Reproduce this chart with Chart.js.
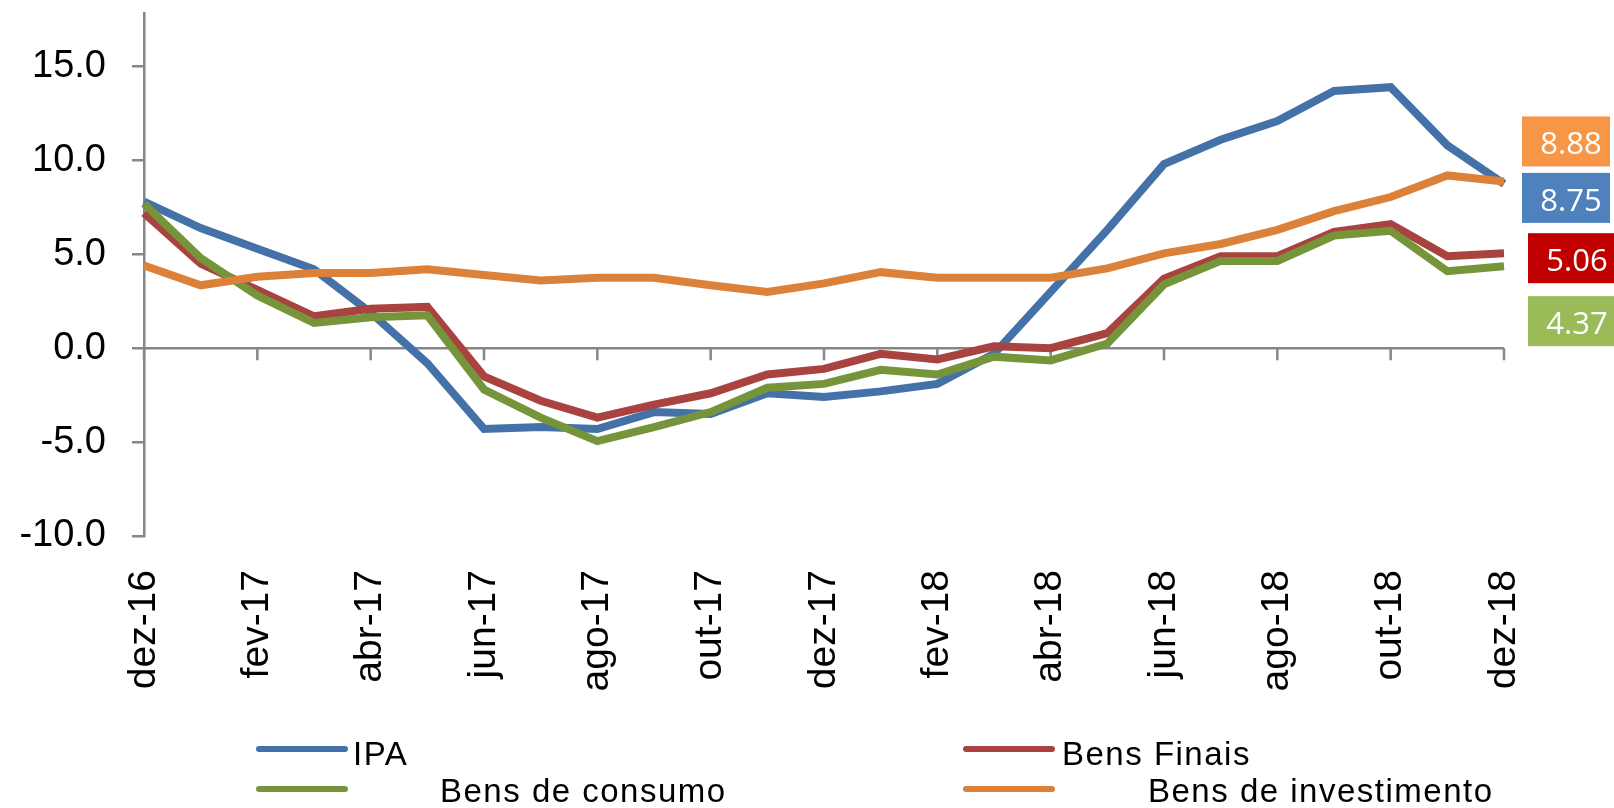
<!DOCTYPE html>
<html>
<head>
<meta charset="utf-8">
<script src="https://cdn.jsdelivr.net/npm/chart.js@4.4.1/dist/chart.umd.min.js"></script>
<style>
  body { margin: 0; background: #fff; }
  #wrap { position: relative; width: 1614px; height: 808px; }
  .leg { position: absolute; font-family: "Liberation Sans", Arial, sans-serif; font-size: 33px;
         letter-spacing: 1.5px; line-height: 33px; color: #000; white-space: nowrap; }
  .legLine { position: absolute; height: 6px; border-radius: 3px; }
</style>
</head>
<body>
<div id="wrap">
  <canvas id="myChart" width="1614" height="808"></canvas>
</div>
<script>
// months dez-16 .. dez-18
const months = ['dez-16','jan-17','fev-17','mar-17','abr-17','mai-17','jun-17','jul-17','ago-17','set-17','out-17','nov-17',
                'dez-17','jan-18','fev-18','mar-18','abr-18','mai-18','jun-18','jul-18','ago-18','set-18','out-18','nov-18','dez-18']

const ipa          = [7.8, 6.4, 5.3, 4.2, 1.9, -0.8, -4.3, -4.2, -4.3, -3.4, -3.5, -2.4, -2.6, -2.3, -1.9, -0.3, 3.0, 6.3, 9.8, 11.1, 12.1, 13.7, 13.9, 10.8, 8.75]
const bensFinais   = [7.2, 4.5, 3.1, 1.7, 2.1, 2.2, -1.5, -2.8, -3.7, -3.0, -2.4, -1.4, -1.1, -0.3, -0.6, 0.1, 0.0, 0.8, 3.7, 4.9, 4.9, 6.2, 6.6, 4.9, 5.06]
const bensConsumo  = [7.7, 4.8, 2.8, 1.35, 1.65, 1.75, -2.2, -3.7, -4.95, -4.2, -3.4, -2.1, -1.9, -1.15, -1.4, -0.45, -0.65, 0.25, 3.4, 4.65, 4.65, 6.0, 6.25, 4.1, 4.37]
const bensInvest   = [4.4, 3.35, 3.8, 4.0, 4.0, 4.2, 3.9, 3.6, 3.75, 3.75, 3.35, 3.0, 3.45, 4.05, 3.75, 3.75, 3.75, 4.25, 5.05, 5.55, 6.3, 7.3, 8.05, 9.2, 8.88]

const yTicks = [-10, -5, 0, 5, 10, 15]

const names  = ['IPA', 'Bens Finais', 'Bens de consumo', 'Bens de investimento']
const colors = ['#4472a8', '#a84340', '#76953a', '#dc8139']

// end value boxes (colour, offset from chart right, offset from value)
const boxStyle = [
  { color: '#4f81bd', dx: 18, dy: 14 },
  { color: '#c00000', dx: 24, dy: 5 },
  { color: '#9bbb59', dx: 24, dy: 55 },
  { color: '#f79646', dx: 18, dy: -40 }
]

// legend layout
const legPos = [
  { lx: 256, ly: 746, tx: 353, ty: 737 },
  { lx: 963, ly: 746, tx: 1062, ty: 737 },
  { lx: 256, ly: 786, tx: 440, ty: 774 },
  { lx: 963, ly: 786, tx: 1148, ty: 774 }
]

const axisGrey = '#868686'

const zeroAxis = {
  id: 'zeroAxis',
  beforeDatasetsDraw(chart) {
    const {ctx, chartArea, scales} = chart
    const y0 = scales.y.getPixelForValue(0)
    ctx.save()
    ctx.strokeStyle = axisGrey
    ctx.lineWidth = 2.5
    ctx.beginPath()
    ctx.moveTo(chartArea.left, y0)
    ctx.lineTo(chartArea.right, y0)
    for (let i = 0; i < months.length; i += 2) {
      const x = scales.x.getPixelForValue(i)
      ctx.moveTo(x, y0)
      ctx.lineTo(x, y0 + 12)
    }
    ctx.stroke()
    ctx.restore()
  }
}

const endBoxes = {
  id: 'endBoxes',
  afterDatasetsDraw(chart) {
    const {ctx, chartArea, scales} = chart
    ctx.save()
    ctx.font = '31px "Open Sans"'
    ctx.textAlign = 'center'
    ctx.textBaseline = 'alphabetic'
    chart.data.datasets.forEach((ds, i) => {
      const v = ds.data[ds.data.length - 1]
      const b = boxStyle[i]
      const top = scales.y.getPixelForValue(v) + b.dy - 25
      const left = chartArea.right + b.dx
      ctx.fillStyle = b.color
      ctx.fillRect(left, top, 88, 50)
      ctx.fillStyle = '#fff'
      ctx.fillText(v.toFixed(2), left + 49, top + 38)
    })
    ctx.restore()
  }
}

const series = [ipa, bensFinais, bensConsumo, bensInvest]

const ctx = document.getElementById('myChart')
const myChart = new Chart(ctx, {
  type: 'line',
  data: {
    labels: months,
    datasets: series.map((d, i) => ({
      label: names[i],
      data: d,
      borderColor: colors[i],
      backgroundColor: colors[i],
      borderWidth: 8,
      pointRadius: 0,
      tension: 0,
      order: 4 - i
    }))
  },
  options: {
    responsive: false,
    animation: false,
    layout: { padding: { left: 0, right: 110, top: 13, bottom: 0 } },
    plugins: { legend: { display: false }, tooltip: { enabled: false } },
    scales: {
      x: {
        grid: { display: false, drawTicks: false, tickLength: 0 },
        border: { display: false },
        ticks: {
          autoSkip: false,
          minRotation: 90,
          maxRotation: 90,
          padding: 34,
          color: '#000',
          font: { family: '"Liberation Sans", Arial, sans-serif', size: 39 },
          callback: (v, i) => i % 2 ? '' : months[i]
        },
        afterFit: (s) => { s.height = 272; s.paddingLeft = 0; s.paddingRight = 0 }
      },
      y: {
        min: -10,
        max: 17.85,
        afterBuildTicks: (s) => { s.ticks = yTicks.map(v => ({ value: v })) },
        grid: { drawOnChartArea: false, drawTicks: true, tickLength: 12, color: axisGrey, lineWidth: 2.5 },
        border: { display: true, color: axisGrey, width: 2.5 },
        ticks: {
          padding: 26,
          color: '#000',
          font: { family: '"Liberation Sans", Arial, sans-serif', size: 38 },
          callback: (v) => v.toFixed(1)
        },
        afterFit: (s) => { s.width = 144; s.paddingTop = 0; s.paddingBottom = 0 }
      }
    }
  },
  plugins: [zeroAxis, endBoxes]
})

// legend
const wrap = document.getElementById('wrap')
names.forEach((n, i) => {
  const p = legPos[i]
  const line = document.createElement('div')
  line.className = 'legLine'
  line.style.left = p.lx + 'px'
  line.style.top = p.ly + 'px'
  line.style.width = '92px'
  line.style.background = colors[i]
  wrap.appendChild(line)
  const t = document.createElement('div')
  t.className = 'leg'
  t.style.left = p.tx + 'px'
  t.style.top = p.ty + 'px'
  t.textContent = n
  wrap.appendChild(t)
})
</script>
</body>
</html>
